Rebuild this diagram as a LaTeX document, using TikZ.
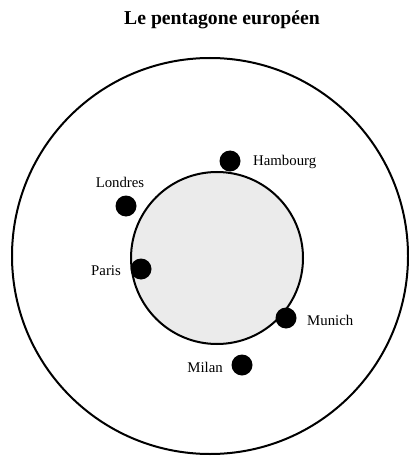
\documentclass[tikz,border=0pt]{standalone}
\usepackage{fontspec}
\setmainfont{Liberation Serif}
\begin{document}
\begin{tikzpicture}[x=1pt,y=-1pt,
  ring/.style={circle, draw=black, line width=2pt, inner sep=0pt},
  city/.style={circle, fill=black, inner sep=0pt, minimum size=21pt},
  lbl/.style={inner sep=0pt, font=\fontsize{14.8}{16}\selectfont},
  ttl/.style={inner sep=0pt, font=\fontsize{19.7}{22}\selectfont\bfseries}]
\useasboundingbox (0,0) rectangle (408,457);
\node[ttl] (title) at (222,20) {Le pentagone européen};
\node[ring, minimum size=396pt] (outer) at (210,256) {};
\node[ring, fill=black!8, minimum size=172pt] (inner) at (217,258) {};
\node[city] (hamb) at (230,161) {};
\node[city] (lond) at (126,206) {};
\node[city] (paris) at (141,269) {};
\node[city] (munich) at (286,318) {};
\node[city] (milan) at (242,365) {};
\node[lbl, anchor=west] (lhamb) at (253,162) {Hambourg};
\node[lbl, anchor=center] (llond) at (120,182) {Londres};
\node[lbl, anchor=east] (lparis) at (121,271) {Paris};
\node[lbl, anchor=west] (lmunich) at (307,320) {Munich};
\node[lbl, anchor=east] (lmilan) at (223,367) {Milan};
\end{tikzpicture}
\end{document}
